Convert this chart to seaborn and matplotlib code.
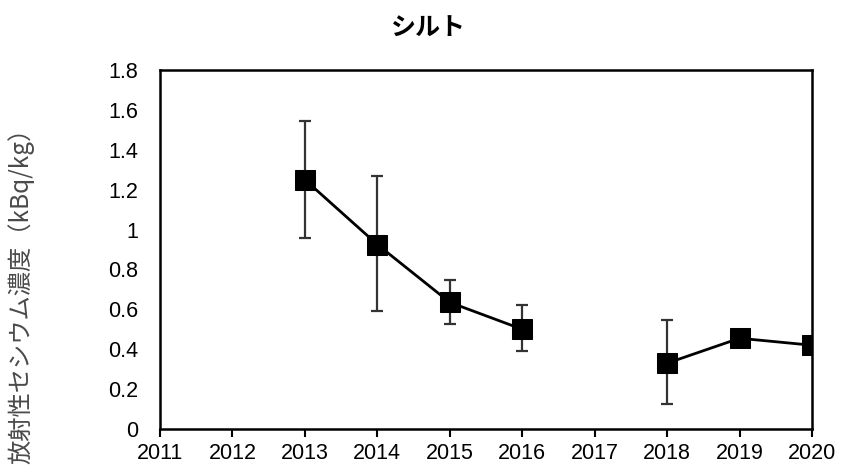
import numpy as np
import pandas as pd
import matplotlib
matplotlib.use("Agg")
import matplotlib.pyplot as plt
import seaborn as sns

# Radiocesium concentration in silt (kBq/kg), yearly mean with error range
years = [2013, 2014, 2015, 2016, 2018, 2019, 2020]
values = [1.25, 0.925, 0.635, 0.50, 0.33, 0.455, 0.42]
err_low = [0.96, 0.59, 0.525, 0.39, 0.125, np.nan, np.nan]
err_high = [1.545, 1.27, 0.745, 0.62, 0.545, np.nan, np.nan]
segment = [0, 0, 0, 0, 1, 1, 1]  # no survey in 2017 -> line is broken

year_ticks = list(range(2011, 2021))
y_ticks = [0, 0.2, 0.4, 0.6, 0.8, 1, 1.2, 1.4, 1.6, 1.8]
y_tick_labels = ["0", "0.2", "0.4", "0.6", "0.8", "1", "1.2", "1.4", "1.6", "1.8"]

title = "シルト"
ylabel = "放射性セシウム濃度（kBq/kg）"

df = pd.DataFrame({"year": years, "value": values, "lo": err_low,
                   "hi": err_high, "segment": segment})

sns.set_theme(style="white")
plt.rcParams["font.family"] = ["Liberation Sans", "Noto Sans CJK JP", "DejaVu Sans"]

fig = plt.figure(figsize=(8.42, 4.68), dpi=100)
ax = fig.add_axes([160 / 842, 1 - 429 / 468, (812 - 160) / 842, (429 - 70) / 468])

# error bars
ax.errorbar(df["year"], df["value"],
            yerr=[df["value"] - df["lo"], df["hi"] - df["value"]],
            fmt="none", ecolor="#333333", elinewidth=1.6, capsize=4.6,
            capthick=1.6, zorder=2)

sns.lineplot(data=df, x="year", y="value", units="segment", estimator=None,
             color="black", marker="s", markersize=15, linewidth=2,
             markeredgecolor="black", ax=ax, zorder=3, legend=False)

ax.set_xlim(2011, 2020)
ax.set_ylim(0, 1.8)
ax.set_xticks(year_ticks)
ax.set_xticklabels([str(y) for y in year_ticks])
ax.set_yticks(y_ticks)
ax.set_yticklabels(y_tick_labels)
ax.set_xlabel("")
ax.set_ylabel("")

for s in ax.spines.values():
    s.set_visible(True)
    s.set_color("black")
    s.set_linewidth(1.8)

ax.tick_params(axis="x", which="major", bottom=True, direction="out",
               length=6, width=1.5, color="black", labelsize=15.5, pad=4,
               labelcolor="black")
ax.tick_params(axis="y", which="major", left=False, labelsize=15.5, pad=10,
               labelcolor="black")

fig.text(428 / 842, 1 - 29 / 468, title, ha="center", va="center",
         fontsize=18, fontweight="bold", color="black",
         family=["Noto Sans CJK JP"])
fig.text(21 / 842, 1 - 290 / 468, ylabel, ha="center", va="center",
         rotation=90, fontsize=17.5, color="#4a4a4a",
         family=["Noto Sans CJK JP", "Liberation Sans"])

fig.savefig("out.png", dpi=100)
